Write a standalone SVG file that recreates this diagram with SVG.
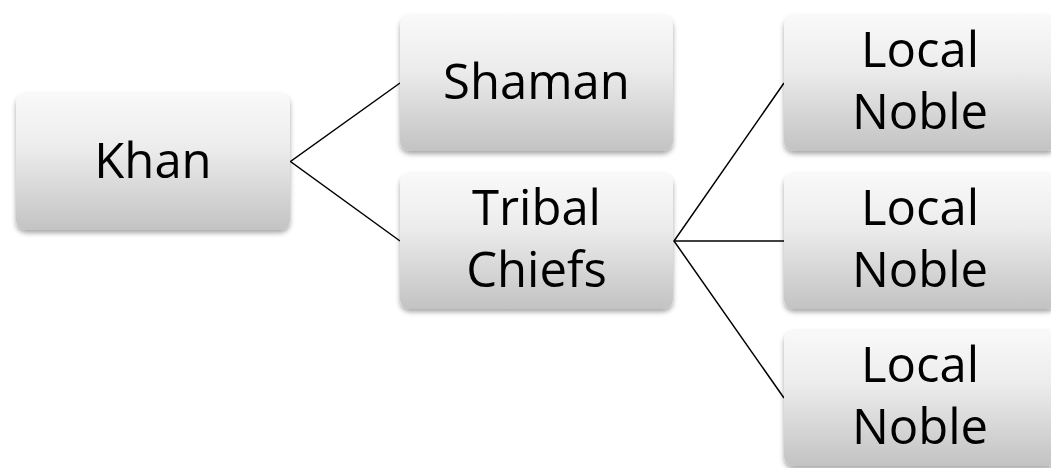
<svg xmlns="http://www.w3.org/2000/svg" width="1051" height="468" viewBox="0 0 1051 468">
<defs>
<linearGradient id="g" x1="0" y1="0" x2="0" y2="1">
<stop offset="0" stop-color="#f9f9f9"/>
<stop offset="0.4" stop-color="#ececec"/>
<stop offset="1" stop-color="#c3c3c3"/>
</linearGradient>
<filter id="sh" x="-10%" y="-10%" width="120%" height="130%">
<feDropShadow dx="0" dy="3" stdDeviation="2.5" flood-color="#000" flood-opacity="0.35"/>
</filter>
</defs>
<style>
.box{fill:url(#g);filter:url(#sh);}
.t{font-family:"Open Sans","Noto Sans",sans-serif;font-size:49px;fill:#000;text-anchor:middle;}
.c{stroke:#000;stroke-width:1.5;fill:none;}
</style>
<rect width="1051" height="468" fill="#fff"/>
<g id="connectors">
<polyline class="c" points="400,83 290.5,161.5 400,241"/>
<polyline class="c" points="784,83 674,241 784,398"/>
<line class="c" x1="674" y1="241" x2="784" y2="241"/>
</g>
<g id="khan">
<rect class="box" x="16" y="93" width="274" height="137" rx="10"/>
<text class="t" x="153" y="178">Khan</text>
</g>
<g id="shaman">
<rect class="box" x="400" y="15" width="273" height="136" rx="10"/>
<text class="t" x="536.5" y="99">Shaman</text>
</g>
<g id="tribal">
<rect class="box" x="400" y="173" width="273" height="136" rx="10"/>
<text class="t" x="536.5" y="225">Tribal</text>
<text class="t" x="536.5" y="287">Chiefs</text>
</g>
<g id="noble1">
<rect class="box" x="784" y="15" width="273" height="136" rx="10"/>
<text class="t" x="920" y="67">Local</text>
<text class="t" x="920" y="129">Noble</text>
</g>
<g id="noble2">
<rect class="box" x="784" y="173" width="273" height="136" rx="10"/>
<text class="t" x="920" y="225">Local</text>
<text class="t" x="920" y="287">Noble</text>
</g>
<g id="noble3">
<rect class="box" x="784" y="330" width="273" height="136" rx="10"/>
<text class="t" x="920" y="382">Local</text>
<text class="t" x="920" y="444">Noble</text>
</g>
</svg>
